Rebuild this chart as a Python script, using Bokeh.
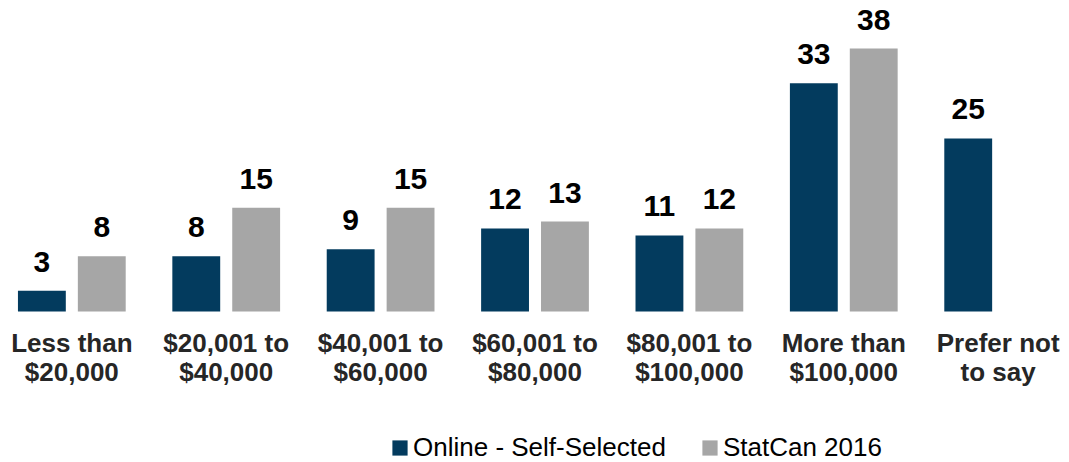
import numpy as np
from bokeh.plotting import figure
from bokeh.models import ColumnDataSource, FactorRange, Legend, LegendItem
from bokeh.transform import dodge
from bokeh.embed import file_html
from bokeh.resources import INLINE
from bokeh.core.properties import value

categories = ["Less than\n$20,000", "$20,001 to\n$40,000", "$40,001 to\n$60,000",
              "$60,001 to\n$80,000", "$80,001 to\n$100,000", "More than\n$100,000",
              "Prefer not\nto say"]
online = [3, 8, 9, 12, 11, 33, 25]
statcan = [8, 15, 15, 13, 12, 38, None]
series_names = ["Online - Self-Selected", "StatCan 2016"]

NAVY = "#033B5E"
GRAY = "#A6A6A6"
FONT = "Liberation Sans"

src = ColumnDataSource(dict(
    cat=categories,
    online=online,
    statcan=[np.nan if v is None else v for v in statcan],
    online_lbl=[str(v) for v in online],
    statcan_lbl=["" if v is None else str(v) for v in statcan],
    base=[0] * len(categories),
))

xr = FactorRange(factors=categories, range_padding=-0.038, range_padding_units="absolute")
p = figure(x_range=xr, y_range=(-21.82, 44.94), width=1069, height=462,
           output_backend="svg", toolbar_location=None,
           x_axis_location=None, y_axis_location=None,
           min_border_left=0, min_border_right=0, min_border_top=0, min_border_bottom=0)

r1 = p.vbar(x=dodge("cat", -0.194, range=p.x_range), top="online", width=0.31,
            source=src, fill_color=NAVY, line_color=None)
r2 = p.vbar(x=dodge("cat", 0.194, range=p.x_range), top="statcan", width=0.31,
            source=src, fill_color=GRAY, line_color=None)

for off, col, lbl in [(-0.194, "online", "online_lbl"), (0.194, "statcan", "statcan_lbl")]:
    p.text(x=dodge("cat", off, range=p.x_range), y=col, text=lbl, source=src,
           text_align="center", text_baseline="alphabetic", y_offset=-29,
           text_font=value(FONT), text_font_style="bold", text_font_size="30px",
           text_color="black")

# category labels under each group
p.text(x="cat", y="base", text="cat", source=src,
       text_align="center", text_baseline="top", y_offset=17,
       text_font=value(FONT), text_font_style="bold", text_font_size="26px",
       text_line_height=0.95, text_color="#262626")

p.xgrid.grid_line_color = None
p.ygrid.grid_line_color = None
p.outline_line_color = None

legend = Legend(items=[LegendItem(label=series_names[0], renderers=[r1]),
                       LegendItem(label=series_names[1], renderers=[r2])],
                orientation="horizontal", location=(390, -1),
                margin=0, padding=0, spacing=34, label_standoff=4,
                glyph_width=19, glyph_height=19, label_height=26,
                label_text_font=FONT, label_text_font_size="26px",
                label_text_color="black", border_line_color=None,
                background_fill_alpha=0)
p.add_layout(legend, "center")

open("out.html", "w").write(file_html(p, INLINE))
